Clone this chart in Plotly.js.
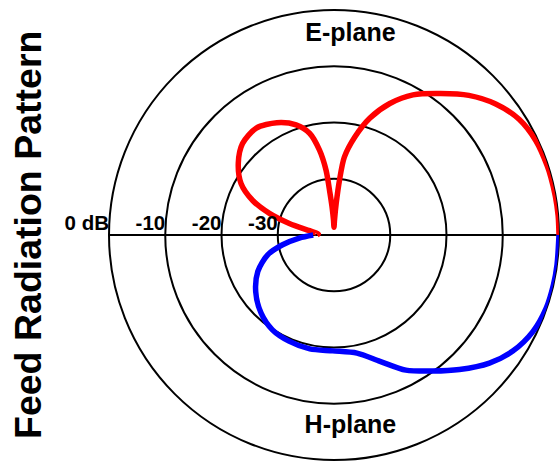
<!DOCTYPE html>
<html>
<head>
<meta charset="utf-8">
<script src="https://cdn.plot.ly/plotly-3.0.1.min.js"></script>
<style>
  html, body { margin: 0; padding: 0; background: #fff; }
  #chart { width: 560px; height: 464px; }
</style>
</head>
<body>
<div id="chart"></div>
<script>
// Feed radiation pattern: E-plane (upper half) and H-plane (lower half), in dB.
const ePlaneTheta = [0, 5, 10, 15, 18, 25, 32, 39, 46, 53, 60.6, 67, 73, 78, 82.4, 84.3, 86, 88, 90,
  92, 94, 95.5, 97, 99.7, 103.5, 109, 117, 126, 135, 143, 151, 157, 161.5, 165.5, 170, 176, 180];
const ePlaneDb = [0, 0, -0.05, -0.1, -0.15, -0.4, -1.2, -3.0, -5.5, -8.5, -11.4, -14.6, -18.3, -22.2, -26, -30.2, -34.3, -37.3, -38.6,
  -37.3, -35, -32.5, -28.4, -24.7, -21.4, -19.3, -17.6, -16.5, -17, -18.7, -21.1, -24.3, -27.9, -31.8, -35.6, -37.2, -37];

const hPlaneTheta = [0, -7.6, -12.8, -19, -26, -33, -39.5, -47, -54, -62, -70, -79, -90.6, -102, -113,
  -123, -133, -144, -154.5, -163.4, -169.3, -175, -180];
const hPlaneDb = [0, 0, 0, -0.1, -0.7, -2.1, -4.2, -7.3, -10.1, -12.8, -16.1, -18.6, -19.4, -19.3, -19.5,
  -19.9, -21.0, -22.8, -25, -27.7, -30.7, -33.8, -36.3];

const ringValues = [0, -10, -20, -30];
const ringLabels = ["0 dB", "-10", "-20", "-30"];
const planeLabels = ["E-plane", "H-plane"];

const fontFamily = 'Liberation Sans, Arial, Helvetica, sans-serif';

const data = [
  {
    type: 'scatterpolar', mode: 'lines', theta: ePlaneTheta, r: ePlaneDb,
    line: { color: '#ff0000', width: 5.5, shape: 'spline', smoothing: 0.8 }, hoverinfo: 'skip'
  },
  {
    type: 'scatterpolar', mode: 'lines', theta: hPlaneTheta, r: hPlaneDb,
    line: { color: '#0000ff', width: 5.5, shape: 'spline', smoothing: 0.8 }, hoverinfo: 'skip'
  },
  {
    type: 'scatterpolar', mode: 'text', theta: ringValues.map(() => 180), r: ringValues,
    text: ringLabels, textposition: 'top left', cliponaxis: false,
    textfont: { family: fontFamily, size: 20.5, weight: 'bold', color: '#000' }, hoverinfo: 'skip'
  },
  {
    type: 'scatterpolar', mode: 'text', theta: [85.3, -85.1], r: [-4.3, -5.8],
    text: planeLabels, textposition: 'middle center', cliponaxis: false,
    textfont: { family: fontFamily, size: 25, weight: 'bold', color: '#000' }, hoverinfo: 'skip'
  }
];

const layout = {
  width: 560, height: 464,
  margin: { l: 109, r: 1, t: 10, b: 4 },
  paper_bgcolor: '#fff',
  showlegend: false,
  font: { family: fontFamily, color: '#000' },
  polar: {
    bgcolor: 'rgba(0,0,0,0)',
    hole: 0,
    radialaxis: {
      range: [-40, 0], tickvals: [-30, -20, -10], showticklabels: false, ticks: '',
      showline: false, gridcolor: '#000', gridwidth: 2, layer: 'below traces'
    },
    angularaxis: {
      tickmode: 'array', tickvals: [0, 180], showticklabels: false, ticks: '',
      showline: true, linecolor: '#000', linewidth: 2,
      gridcolor: '#000', gridwidth: 2, layer: 'below traces'
    }
  },
  annotations: [{
    text: 'Feed Radiation Pattern', xref: 'paper', yref: 'paper',
    x: -0.18, y: 0.5, xanchor: 'center', yanchor: 'middle', textangle: -90, showarrow: false,
    font: { family: fontFamily, size: 37.5, weight: 'bold', color: '#000' }
  }]
};

Plotly.newPlot('chart', data, layout, { displayModeBar: false, staticPlot: true });
</script>
</body>
</html>
